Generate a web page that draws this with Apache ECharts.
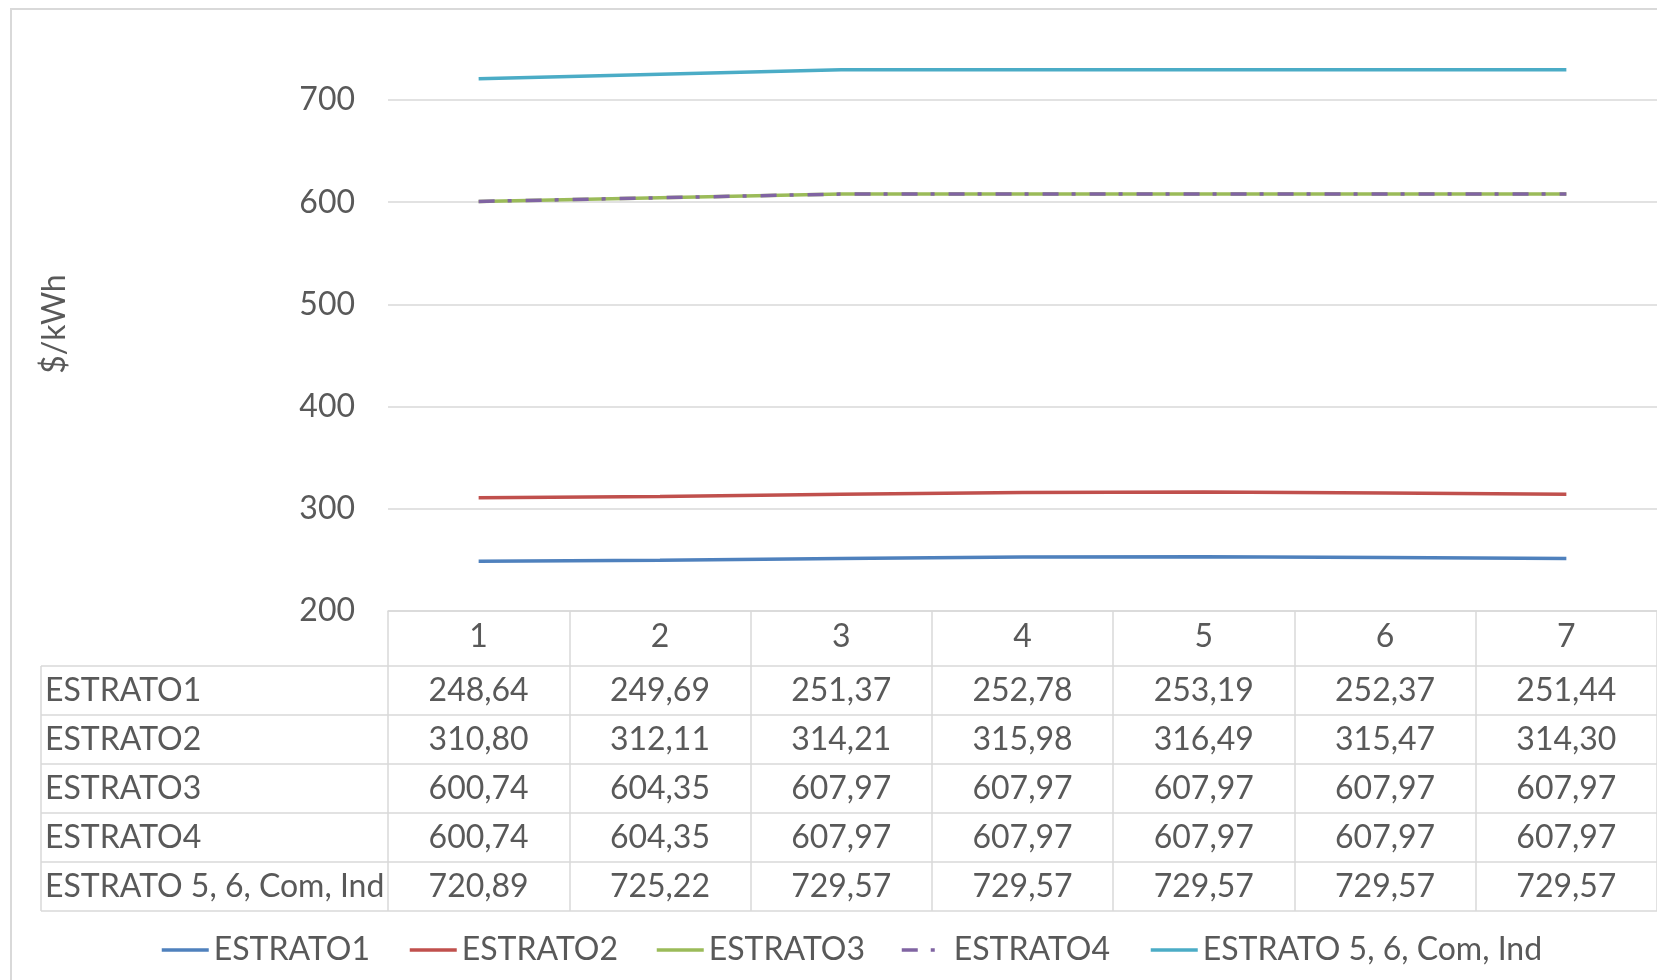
<!DOCTYPE html>
<html>
<head>
<meta charset="utf-8">
<script src="https://cdn.jsdelivr.net/npm/echarts@6/dist/echarts.min.js"></script>
<style>
html,body{margin:0;padding:0;background:#fff;}
#c{width:1657px;height:980px;}
</style>
</head>
<body>
<div id="c"></div>
<script>
// ---- data ----
const categories = ['1', '2', '3', '4', '5', '6', '7'];
const seriesNames = ['ESTRATO1', 'ESTRATO2', 'ESTRATO3', 'ESTRATO4', 'ESTRATO 5, 6, Com, Ind'];
const estrato1 = [248.64, 249.69, 251.37, 252.78, 253.19, 252.37, 251.44];
const estrato2 = [310.80, 312.11, 314.21, 315.98, 316.49, 315.47, 314.30];
const estrato3 = [600.74, 604.35, 607.97, 607.97, 607.97, 607.97, 607.97];
const estrato4 = [600.74, 604.35, 607.97, 607.97, 607.97, 607.97, 607.97];
const estrato5 = [720.89, 725.22, 729.57, 729.57, 729.57, 729.57, 729.57];
const yMin = 200, yMax = 700, yStep = 100;
const yTitle = '$/kWh';

const allSeries = [estrato1, estrato2, estrato3, estrato4, estrato5];
const colors = ['#4F81BD', '#C0504D', '#9BBB59', '#8064A2', '#4BACC6'];
const FONT = 'Lato';
const TXT = '#595959';
const GRID = '#d9d9d9';
const FS = 32;

const chart = echarts.init(document.getElementById('c'), null, {renderer: 'canvas'});

const legendLefts = [160, 408, 655, 900, 1149];

const series = seriesNames.map((n, i) => ({
  name: n,
  type: 'line',
  data: allSeries[i],
  symbol: 'none',
  clip: false,
  z: 3 + i,
  lineStyle: {
    color: colors[i],
    width: 3.5,
    type: i === 3 ? [16, 13, 4, 14] : 'solid',
    cap: 'butt'
  },
  itemStyle: {color: colors[i]}
}));

const option = {
  backgroundColor: '#fff',
  animation: false,
  grid: {left: 388, top: 100, width: 1278, bottom: 369, containLabel: false},
  xAxis: {
    type: 'category',
    data: categories,
    boundaryGap: true,
    axisLine: {show: true, lineStyle: {color: GRID, width: 1.5}},
    axisTick: {show: true, length: 300, alignWithLabel: false, lineStyle: {color: GRID, width: 1.5}},
    axisLabel: {color: TXT, fontSize: FS, fontFamily: FONT, margin: 9, lineHeight: 34}
  },
  yAxis: {
    type: 'value',
    min: yMin, max: yMax, interval: yStep,
    axisLine: {show: false},
    axisTick: {show: false},
    splitLine: {show: true, lineStyle: {color: GRID, width: 1.5}},
    axisLabel: {color: TXT, fontSize: FS, fontFamily: FONT, margin: 33}
  },
  legend: seriesNames.map((n, i) => ({
    data: [n],
    left: legendLefts[i],
    top: 934,
    padding: 0,
    itemWidth: 47,
    itemHeight: 14,
    itemStyle: {opacity: 0},
    lineStyle: {width: 3.5},
    textStyle: {color: TXT, fontSize: FS, fontFamily: FONT},
    selectedMode: false
  })),
  series: series
};
chart.setOption(option);

function fmt(v) { return v.toFixed(2).replace('.', ','); }

function buildTable() {
  const yBottom = chart.convertToPixel({yAxisIndex: 0}, yMin);
  const headerH = 55;
  const rowH = 49;
  const tableLeft = 41;
  const rightEdge = 1700;
  const els = [];
  // chart border
  els.push({type: 'rect', shape: {x: 11, y: 9, width: 1800, height: 1200},
    style: {fill: null, stroke: GRID, lineWidth: 2}, z: 0, silent: true});
  // horizontal lines
  for (let r = 0; r <= seriesNames.length; r++) {
    const y = yBottom + headerH + r * rowH;
    els.push({type: 'line', shape: {x1: tableLeft, y1: y, x2: rightEdge, y2: y},
      style: {stroke: GRID, lineWidth: 1.5}, z: 1, silent: true});
  }
  // left vertical line
  els.push({type: 'line', shape: {x1: tableLeft, y1: yBottom + headerH, x2: tableLeft, y2: yBottom + headerH + seriesNames.length * rowH},
    style: {stroke: GRID, lineWidth: 1.5}, z: 1, silent: true});
  // row labels and values
  seriesNames.forEach((n, r) => {
    const cy = yBottom + headerH + r * rowH + rowH / 2;
    els.push({type: 'text', x: tableLeft + 4, y: cy,
      style: {text: n, fill: TXT, font: FS + 'px ' + FONT, textAlign: 'left', textVerticalAlign: 'middle'}, z: 5, silent: true});
    allSeries[r].forEach((v, c) => {
      const cx = chart.convertToPixel({xAxisIndex: 0}, categories[c]);
      els.push({type: 'text', x: cx, y: cy,
        style: {text: fmt(v), fill: TXT, font: FS + 'px ' + FONT, textAlign: 'center', textVerticalAlign: 'middle'}, z: 5, silent: true});
    });
  });
  // y axis title
  els.push({type: 'text', x: 55, y: 324, rotation: Math.PI / 2,
    style: {text: yTitle, fill: TXT, font: FS + 'px ' + FONT, textAlign: 'center', textVerticalAlign: 'middle'}, z: 5, silent: true});
  chart.setOption({graphic: {elements: els}});
}
buildTable();
</script>
</body>
</html>
